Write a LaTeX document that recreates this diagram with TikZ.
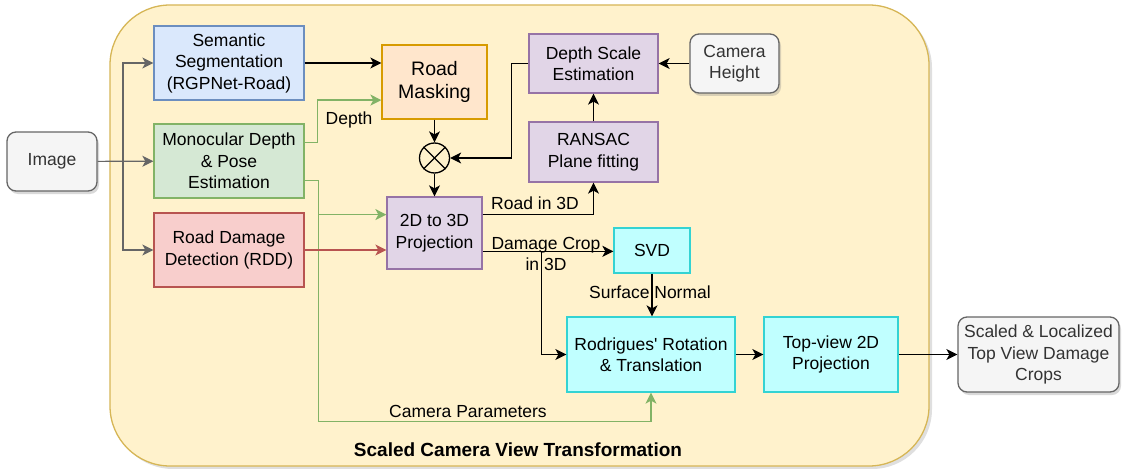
\documentclass[tikz,border=0pt]{standalone}
\usepackage{fontspec}
\setmainfont{Liberation Sans}[Ligatures=TeXOff]
\usepackage{tikz}
\usetikzlibrary{arrows.meta,calc,positioning,shadows}
\definecolor{viewFill}{HTML}{FFF2CC}
\definecolor{viewDraw}{HTML}{D6B656}
\definecolor{segFill}{HTML}{DAE8FC}
\definecolor{segDraw}{HTML}{6C8EBF}
\definecolor{monoFill}{HTML}{D5E8D4}
\definecolor{monoDraw}{HTML}{82B366}
\definecolor{rddFill}{HTML}{F8CECC}
\definecolor{rddDraw}{HTML}{B85450}
\definecolor{maskFill}{HTML}{FFE6CC}
\definecolor{maskDraw}{HTML}{D79B00}
\definecolor{projFill}{HTML}{E1D5E7}
\definecolor{projDraw}{HTML}{9673A6}
\definecolor{svdFill}{HTML}{C0FFFF}
\definecolor{svdDraw}{HTML}{33D3D3}
\definecolor{termFill}{HTML}{F5F5F5}
\definecolor{termDraw}{HTML}{666666}
\definecolor{termText}{HTML}{333333}

\begin{document}
\begin{tikzpicture}[
  x=1pt,
  y=-1pt,
  >={Stealth[length=11pt,width=11pt,inset=3pt]},
  font=\fontsize{17.5}{21.5}\selectfont,
  line/.style={->, line width=1.2pt, draw=black},
  greyline/.style={line, draw=termDraw},
  greenline/.style={line, draw=monoDraw},
  redline/.style={line, draw=rddDraw},
  box/.style={draw, line width=1.3pt, align=center, inner sep=2pt},
  segbox/.style={box, fill=segFill, draw=segDraw},
  monobox/.style={box, fill=monoFill, draw=monoDraw},
  rddbox/.style={box, fill=rddFill, draw=rddDraw},
  maskbox/.style={box, fill=maskFill, draw=maskDraw, font=\fontsize{19.5}{23.5}\selectfont},
  projbox/.style={box, fill=projFill, draw=projDraw},
  svdbox/.style={box, fill=svdFill, draw=svdDraw},
  termbox/.style={
    box,
    rounded corners=9pt,
    fill=termFill,
    draw=termDraw,
    text=termText,
    drop shadow={opacity=0.3, shadow xshift=2pt, shadow yshift=-3pt}
  },
  mult/.style={draw, circle, line width=1.3pt, minimum size=30pt, inner sep=0pt},
  tag/.style={inner sep=0pt, align=center}
]
\useasboundingbox (0,0) rectangle (1123,468);

% outer frame
\node[draw=viewDraw, fill=viewFill, line width=1.3pt, rounded corners=60pt,
      minimum width=819pt, minimum height=461pt,
      drop shadow={opacity=0.25, shadow xshift=3pt, shadow yshift=-3pt}] (view) at (519.5,235.5) {};
\node[tag, font=\fontsize{19}{23}\selectfont\bfseries] (title) at (518,450) {Scaled Camera View Transformation};

\node[termbox, minimum width=90pt,  minimum height=59pt] (image)     at (52,161.5)    {Image};
\node[segbox,  minimum width=150pt, minimum height=74pt] (seg)       at (229,63)      {Semantic\\Segmentation\\(RGPNet-Road)};
\node[monobox, minimum width=150pt, minimum height=74pt] (mono)      at (229,161)     {Monocular Depth\\\& Pose\\Estimation};
\node[rddbox,  minimum width=150pt, minimum height=74pt] (rdd)       at (229,250)     {Road Damage\\Detection (RDD)};
\node[maskbox, minimum width=105pt, minimum height=74pt] (mask)      at (434.5,82)    {Road\\Masking};
\node[mult]                                              (times)     at (434.5,158)   {};
\node[projbox, minimum width=95pt,  minimum height=72pt] (proj)      at (434.5,233)   {2D to 3D\\Projection};
\node[projbox, minimum width=129pt, minimum height=59pt] (scale)     at (593.5,63.5)  {Depth Scale\\Estimation};
\node[termbox, minimum width=89pt,  minimum height=59pt] (height)    at (734.5,63.5)  {Camera\\Height};
\node[projbox, minimum width=129pt, minimum height=60pt] (ransac)    at (593.5,152)   {RANSAC\\Plane fitting};
\node[svdbox,  minimum width=76pt,  minimum height=45pt] (svd)       at (652,250.5)   {SVD};
\node[svdbox,  minimum width=168pt, minimum height=75pt] (rodrigues) at (651,354.5)   {Rodrigues' Rotation\\\& Translation};
\node[svdbox,  minimum width=134pt, minimum height=75pt] (topview)   at (831,354.5)   {Top-view 2D\\Projection};
\node[termbox, minimum width=161pt, minimum height=75pt] (crops)     at (1038.5,354.5){Scaled \& Localized\\Top View Damage\\Crops};

% cross inside the product circle
\draw[line width=1.3pt] (times.north west) -- (times.south east);
\draw[line width=1.3pt] (times.north east) -- (times.south west);

% image fan-out
\coordinate (split) at (123,161);
\draw[greyline] (image) -- (mono);
\draw[greyline] (split) |- (seg.west);
\draw[greyline] (split) |- (rdd.west);

% depth and camera parameters
\coordinate (depthout) at ($(mono.north east)!0.25!(mono.south east)$);
\coordinate (depthin)  at ($(mask.north west)!0.74!(mask.south west)$);
\coordinate (camout)   at ($(mono.north east)!0.76!(mono.south east)$);
\coordinate (camsplit) at ($(camout)+(14,34)$);
\draw[greenline] (depthout) -- ++(13,0) |- (depthin);
\draw[greenline] (camout) -- ++(14,0) -- ++(0,241) -| (rodrigues.south);
\draw[greenline] (camsplit) -- (camsplit -| proj.west);
\draw[redline] (rdd.east) -- (rdd.east -| proj.west);

\draw[line] (seg.east) -- (seg.east -| mask.west);
\draw[line] (mask) -- (times);
\draw[line] (times) -- (proj);
\draw[line] (height) -- (scale);
\draw[line] (ransac) -- (scale);
\draw[line] (scale.west) -- ++(-17,0) |- (times.east);

% outputs of the projection
\coordinate (projhigh) at ($(proj.north east)!0.25!(proj.south east)$);
\coordinate (projlow)  at ($(proj.north east)!0.75!(proj.south east)$);
\coordinate (dmgsplit) at ($(projlow)+(59,0)$);
\draw[line] (projhigh) -| (ransac.south);
\draw[line] (projlow) -- (projlow -| svd.west);
\draw[line] (dmgsplit) |- (rodrigues.west);
\draw[line] (svd.south) -- (svd.south |- rodrigues.north);
\draw[line] (rodrigues) -- (topview);
\draw[line] (topview) -- (crops);

% edge labels
\node[tag] (depthtag)  at (349,120) {Depth};
\node[tag] (roadtag)   at (535,203) {Road in 3D};
\node[tag] (dmgtag)    at (546,254) {Damage Crop\\in 3D};
\node[tag] (normaltag) at (650,292) {Surface Normal};
\node[tag] (camtag)    at (468,411) {Camera Parameters};
\end{tikzpicture}
\end{document}
